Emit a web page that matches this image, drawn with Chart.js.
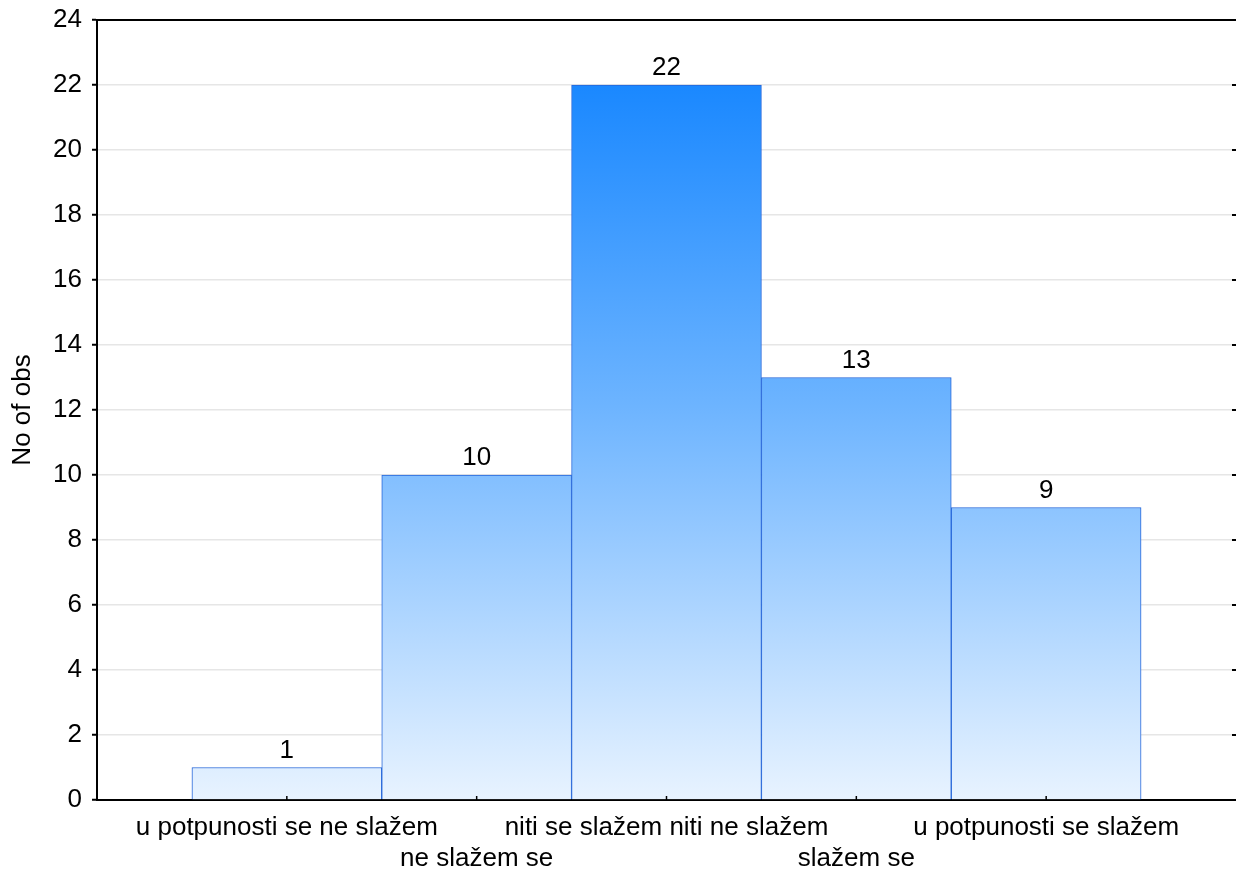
<!DOCTYPE html>
<html>
<head>
<meta charset="utf-8">
<script src="https://cdn.jsdelivr.net/npm/chart.js@4.4.1/dist/chart.umd.min.js"></script>
<style>
    body { margin: 0; background: #fff; }
    #okvir { width: 1236px; height: 873px; }
</style>
</head>
<body>
<div id="okvir"><canvas id="grafikon"></canvas></div>
<script>
// podaci s grafa
const kategorije = ['u potpunosti se ne slažem', 'ne slažem se', 'niti se slažem niti ne slažem', 'slažem se', 'u potpunosti se slažem'];
const pozicije = [1, 2, 3, 4, 5];
const brojOpazanja = [1, 10, 22, 13, 9];
const yMin = 0;
const yMax = 24;
const yKorak = 2;

const font = { family: '"Liberation Sans", Arial, sans-serif', size: 26 };

// gradijent stupaca (tamnije gore, svijetlo dolje)
function gradijent(context) {
    const chart = context.chart;
    const { ctx, chartArea, scales } = chart;
    if (!chartArea) return '#6cb3ff';
    const gore = scales.y.getPixelForValue(Math.max(...brojOpazanja));
    const dolje = scales.y.getPixelForValue(yMin);
    const g = ctx.createLinearGradient(0, gore, 0, dolje);
    g.addColorStop(0, '#1a88ff');
    g.addColorStop(0.45, '#6db4ff');
    g.addColorStop(1, '#e8f3ff');
    return g;
}

// okvir gore, kvačice desno/dolje i brojevi iznad stupaca
const dodatci = {
    id: 'dodatci',
    afterDatasetsDraw(chart) {
        const { ctx, chartArea, scales } = chart;
        ctx.save();
        ctx.strokeStyle = '#000';
        ctx.lineWidth = 2;
        ctx.beginPath();
        ctx.moveTo(chartArea.left - 1, chartArea.top);
        ctx.lineTo(chartArea.right, chartArea.top);
        ctx.stroke();

        scales.y.ticks.forEach(t => {
            const y = scales.y.getPixelForValue(t.value);
            ctx.beginPath();
            ctx.moveTo(chartArea.right - 4, y);
            ctx.lineTo(chartArea.right, y);
            ctx.stroke();
        });

        ctx.lineWidth = 1.5;
        scales.x.ticks.forEach(t => {
            const x = scales.x.getPixelForValue(t.value);
            ctx.beginPath();
            ctx.moveTo(x, chartArea.bottom - 4);
            ctx.lineTo(x, chartArea.bottom);
            ctx.stroke();
        });

        ctx.fillStyle = '#000';
        ctx.font = font.size + 'px ' + font.family;
        ctx.textAlign = 'center';
        ctx.textBaseline = 'bottom';
        const meta = chart.getDatasetMeta(0);
        meta.data.forEach((bar, i) => {
            ctx.fillText(String(brojOpazanja[i]), bar.x, bar.y - 4);
        });
        ctx.restore();
    }
};

new Chart(document.getElementById('grafikon'), {
    type: 'bar',
    data: {
        datasets: [{
            data: pozicije.map((p, i) => ({ x: p, y: brojOpazanja[i] })),
            backgroundColor: gradijent,
            borderColor: '#2566d9',
            borderWidth: 1,
            borderSkipped: 'bottom',
            barPercentage: 1,
            categoryPercentage: 1
        }]
    },
    options: {
        responsive: true,
        maintainAspectRatio: false,
        animation: false,
        layout: { padding: { top: 20, right: 0, left: 0, bottom: 0 } },
        plugins: {
            legend: { display: false },
            tooltip: { enabled: false }
        },
        scales: {
            x: {
                type: 'linear',
                min: 0,
                max: 6,
                offset: false,
                afterBuildTicks: scale => {
                    scale.ticks = pozicije.map(p => ({ value: p }));
                },
                afterFit: scale => {
                    scale.height = 73;
                    scale.paddingLeft = 0;
                    scale.paddingRight = 0;
                },
                grid: {
                    offset: false,
                    drawOnChartArea: false,
                    drawTicks: false
                },
                border: { color: '#000', width: 2 },
                ticks: {
                    autoSkip: false,
                    maxRotation: 0,
                    padding: 12,
                    color: '#000',
                    font: font,
                    callback: value => {
                        const i = pozicije.indexOf(value);
                        return i % 2 === 0 ? kategorije[i] : ['', kategorije[i]];
                    }
                }
            },
            y: {
                min: yMin,
                max: yMax,
                afterFit: scale => {
                    scale.width = 97;
                    scale.paddingTop = 0;
                    scale.paddingBottom = 0;
                },
                grid: {
                    color: '#e6e6e6',
                    lineWidth: 1.5,
                    tickLength: 5,
                    tickColor: '#000',
                    tickWidth: 2
                },
                border: { color: '#000', width: 2 },
                ticks: {
                    stepSize: yKorak,
                    padding: 10,
                    color: '#000',
                    font: font
                },
                title: {
                    display: true,
                    text: 'No of obs',
                    color: '#000',
                    font: font,
                    padding: { top: 7, bottom: 0 }
                }
            }
        }
    },
    plugins: [dodatci]
});
</script>
</body>
</html>
